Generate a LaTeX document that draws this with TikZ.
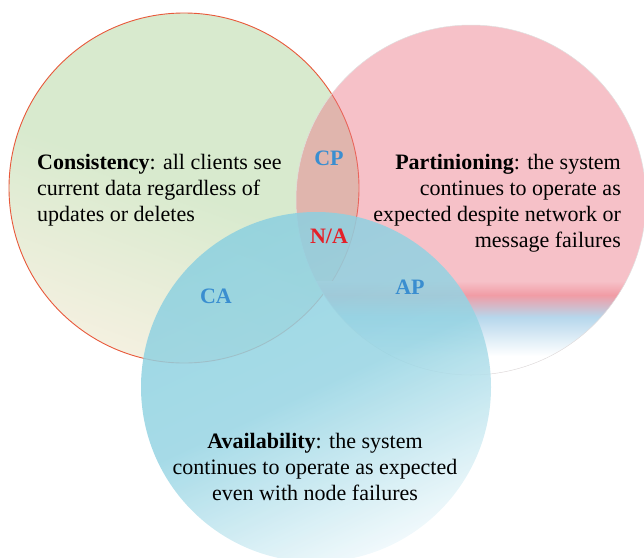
\documentclass[tikz,border=0pt]{standalone}
\usepackage{fontspec}
\setmainfont{Liberation Serif}
\usepackage{tikz}

\definecolor{cgreen}{RGB}{216,234,206}
\definecolor{ccream}{RGB}{244,240,224}
\definecolor{cpink}{RGB}{235,118,133}
\definecolor{cpinklight}{RGB}{246,193,200}
\definecolor{cpinkdark}{RGB}{241,156,165}
\definecolor{cstripeblue}{RGB}{182,215,236}
\definecolor{cblue}{RGB}{140,208,224}
\definecolor{cbluemid}{RGB}{150,212,227}
\definecolor{cbluelight}{RGB}{238,248,251}
\definecolor{credline}{RGB}{232,88,58}
\definecolor{clabel}{RGB}{58,142,208}
\definecolor{cna}{RGB}{228,32,40}

\begin{document}
\begin{tikzpicture}[x=1pt,y=-1pt,
   desc/.style={inner sep=0pt,font=\fontsize{22}{26}\selectfont},
   pair/.style={inner sep=0pt,font=\fontsize{22}{26}\selectfont\bfseries,text=clabel}]

\useasboundingbox (0,0) rectangle (644,557);

% consistency
\shade[top color=cgreen, bottom color=ccream, middle color=cgreen, shading angle=-20] (184,188) circle (175pt);
\draw[credline, line width=0.9pt] (184,188) circle (175pt);

% partitioning
\fill[cpink, fill opacity=0.45] (471,200) circle (175pt);
\begin{scope}
\clip (471,200) circle (175pt);
\shade[top color=cpinklight, bottom color=cpinkdark] (290,281) rectangle (650,295);
\shade[top color=cpinkdark, bottom color=cstripeblue] (290,295) rectangle (650,317);
\shade[top color=cstripeblue, bottom color=white] (290,317) rectangle (650,356);
\fill[white] (290,356) rectangle (650,380);
\end{scope}
\draw[black!12, line width=0.5pt] (471,200) circle (175pt);

% availability
\shade[top color=cblue, bottom color=cbluelight, middle color=cbluemid, shading angle=25, fill opacity=0.85] (316,387) circle (175pt);

\node[desc, anchor=west, align=left] (cons) at (37,190) {\textbf{Consistency}: all clients see\\current data regardless of\\updates or deletes};
\node[desc, anchor=east, align=right] (part) at (621,203) {\textbf{Partinioning}: the system\\continues to operate as\\expected despite network or\\message failures};
\node[desc, align=center] (avail) at (315,467) {\textbf{Availability}: the system\\continues to operate as expected\\even with node failures};

\node[pair] (cp) at (329,158) {CP};
\node[pair, text=cna] (na) at (329,236) {N/A};
\node[pair] (ca) at (216,296) {CA};
\node[pair] (ap) at (410,287) {AP};

\end{tikzpicture}
\end{document}
